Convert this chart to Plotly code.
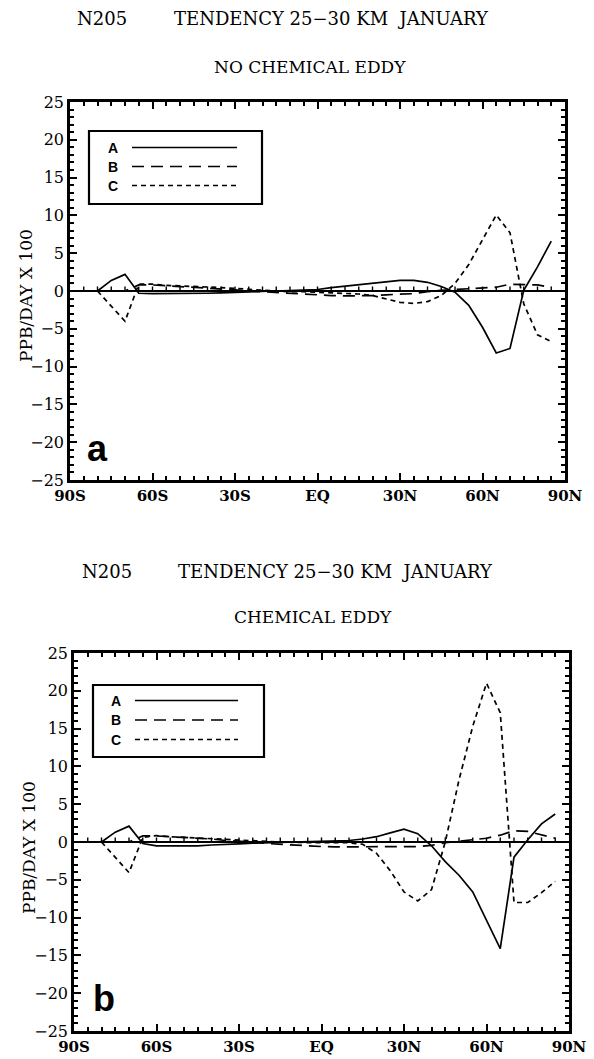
import plotly.graph_objects as go
import numpy as np

# ---------------- data ----------------
lat = [-80, -75, -70, -65, -60, -55, -50, -45, -40, -35, -30, -25, -20, -15, -10, -5,
       0, 5, 10, 15, 20, 25, 30, 35, 40, 45, 50, 55, 60, 65, 70, 75, 80, 85]

# panel a : NO CHEMICAL EDDY
a_A = [0.0, 1.4, 2.2, -0.3, -0.35, -0.35, -0.35, -0.35, -0.3, -0.25, -0.2, -0.15, -0.1, 0.0, 0.05, 0.1,
       0.2, 0.45, 0.65, 0.85, 1.05, 1.25, 1.4, 1.4, 1.15, 0.6, -0.15, -1.9, -4.8, -8.2, -7.6, 0.1, 3.2, 6.6]
a_B = [0.0, 0.0, 0.0, 0.8, 0.8, 0.7, 0.6, 0.5, 0.4, 0.3, 0.15, 0.0, -0.1, -0.2, -0.3, -0.45,
       -0.5, -0.6, -0.65, -0.65, -0.6, -0.5, -0.45, -0.35, -0.1, 0.1, 0.2, 0.3, 0.4, 0.5, 0.9, 0.9, 0.8, 0.5]
a_C = [0.0, -2.0, -4.0, 0.9, 0.9, 0.75, 0.7, 0.65, 0.55, 0.45, 0.35, 0.2, 0.1, 0.0, -0.1, -0.1,
       -0.2, -0.2, -0.3, -0.4, -0.6, -1.1, -1.5, -1.65, -1.4, -0.6, 1.0, 3.5, 6.7, 10.05, 7.7, -1.7, -5.8, -6.7]

# panel b : CHEMICAL EDDY
b_A = [0.0, 1.3, 2.1, -0.2, -0.5, -0.5, -0.5, -0.5, -0.4, -0.35, -0.25, -0.15, -0.1, 0.0, 0.0, 0.05,
       0.1, 0.1, 0.2, 0.4, 0.7, 1.2, 1.7, 1.1, -0.5, -2.6, -4.4, -6.6, -10.3, -14.1, -2.0, 0.3, 2.4, 3.7]
b_B = [0.0, 0.0, 0.0, 0.8, 0.8, 0.7, 0.6, 0.5, 0.4, 0.2, 0.1, 0.0, -0.2, -0.3, -0.45, -0.55,
       -0.6, -0.65, -0.65, -0.65, -0.65, -0.65, -0.65, -0.6, -0.45, -0.1, 0.1, 0.3, 0.5, 0.9, 1.5, 1.4, 0.9, 0.5]
b_C = [0.0, -2.0, -4.05, 0.6, 0.85, 0.7, 0.6, 0.5, 0.45, 0.35, 0.2, 0.1, 0.05, 0.0, -0.05, -0.1,
       -0.1, -0.1, -0.1, -0.3, -1.5, -3.8, -6.6, -7.8, -6.3, 0.0, 8.2, 15.3, 21.0, 17.1, -8.0, -8.0, -6.7, -5.2]

x_tick_vals = [-90, -60, -30, 0, 30, 60, 90]
x_tick_text = ["90S", "60S", "30S", "EQ", "30N", "60N", "90N"]
series_names = ["A", "B", "C"]

title_code = "N205"
title_main = "TENDENCY 25\u221230 KM  JANUARY"
subtitles = ["NO CHEMICAL EDDY", "CHEMICAL EDDY"]
panel_letters = ["a", "b"]
y_title = "PPB/DAY X 100"

# tick label aliases (numeric latitude -> label)
x_alias = {}
for v, t in zip(x_tick_vals, x_tick_text):
    x_alias[str(v)] = t
    x_alias[str(v).replace("-", "\u2212")] = t

# ---------------- layout geometry (pixels) ----------------
W, H = 594, 1059
def px(x):
    return x / W
def py(y):
    return 1 - y / H

panels = [
    dict(data=[a_A, a_B, a_C], xd=(70, 565), yd=(102, 480), t1=19, t2=67, tc=102, tx1=331, tx2=310,
         leg=(89, 262, 131, 204), leg_rows=(147.5, 166.5, 185.5), leg_lx=113, leg_x=(132, 237),
         let=(97, 448), ytl=(26, 296)),
    dict(data=[b_A, b_B, b_C], xd=(74, 569), yd=(653, 1031), t1=571, t2=617, tc=107, tx1=335, tx2=313,
         leg=(93, 264, 685, 757), leg_rows=(700.5, 720, 739.5), leg_lx=116, leg_x=(135, 238),
         let=(104, 998), ytl=(29, 848)),
]

dashes = ["solid", "12px,7px", "5px,4px"]
serif = "DejaVu Serif"

fig = go.Figure()
shapes = []
annotations = []
layout_axes = {}

for i, p in enumerate(panels):
    xa = "x" if i == 0 else "x2"
    ya = "y" if i == 0 else "y2"
    for name, vals, dsh in zip(series_names, p["data"], dashes):
        fig.add_trace(go.Scatter(x=lat, y=vals, mode="lines", name=name, showlegend=False,
                                 line=dict(color="black", width=1.7, dash=dsh),
                                 xaxis=xa, yaxis=ya))
    xkey = "xaxis" if i == 0 else "xaxis2"
    ykey = "yaxis" if i == 0 else "yaxis2"
    layout_axes[xkey] = dict(
        domain=[px(p["xd"][0]), px(p["xd"][1])], range=[-90, 90], anchor=ya,
        tickmode="linear", tick0=-90, dtick=30, labelalias=x_alias,
        ticks="inside", ticklen=7, tickwidth=1.8, tickcolor="black",
        showline=True, linewidth=2.6, linecolor="black", mirror="ticks",
        showgrid=False, zeroline=False,
        minor=dict(ticks="inside", tick0=-90, dtick=5, ticklen=4.5,
                   tickwidth=1.5, tickcolor="black", showgrid=False),
        tickfont=dict(family=serif, size=15, color="black", weight="bold"),
    )
    layout_axes[ykey] = dict(
        domain=[py(p["yd"][1]), py(p["yd"][0])], range=[-25, 25], anchor=xa,
        tickmode="linear", tick0=-25, dtick=5,
        ticks="inside", ticklen=7, tickwidth=1.8, tickcolor="black",
        showline=True, linewidth=2.6, linecolor="black", mirror="ticks",
        showgrid=False, zeroline=True, zerolinewidth=2.3, zerolinecolor="black",
        minor=dict(ticks="inside", tick0=-25, dtick=1, ticklen=4.5,
                   tickwidth=1.5, tickcolor="black", showgrid=False),
        tickfont=dict(family=serif, size=16, color="black"),
    )
    # small upward ticks along the zero line
    for xv in np.arange(-85, 90, 5):
        shapes.append(dict(type="line", xref=xa, yref=ya, x0=float(xv), x1=float(xv), y0=0, y1=0.6,
                           line=dict(color="black", width=1.4)))
    # legend box
    lx0, lx1, ly0, ly1 = p["leg"]
    shapes.append(dict(type="rect", xref="paper", yref="paper", x0=px(lx0), x1=px(lx1),
                       y0=py(ly1), y1=py(ly0), line=dict(color="black", width=2.2)))
    for name, ry, dsh in zip(series_names, p["leg_rows"], dashes):
        shapes.append(dict(type="line", xref="paper", yref="paper",
                           x0=px(p["leg_x"][0]), x1=px(p["leg_x"][1]), y0=py(ry), y1=py(ry),
                           line=dict(color="black", width=1.7, dash=dsh)))
        annotations.append(dict(text=name, xref="paper", yref="paper", x=px(p["leg_lx"]), y=py(ry),
                                xanchor="center", yanchor="middle", showarrow=False,
                                font=dict(family="Liberation Sans", size=14, color="black", weight="bold")))
    # titles
    annotations.append(dict(text=title_code, xref="paper", yref="paper", x=px(p["tc"]), y=py(p["t1"]),
                            xanchor="center", yanchor="middle", showarrow=False,
                            font=dict(family=serif, size=18, color="black")))
    annotations.append(dict(text=title_main, xref="paper", yref="paper", x=px(p["tx1"]), y=py(p["t1"]),
                            xanchor="center", yanchor="middle", showarrow=False,
                            font=dict(family=serif, size=18, color="black")))
    annotations.append(dict(text=subtitles[i], xref="paper", yref="paper", x=px(p["tx2"]), y=py(p["t2"]),
                            xanchor="center", yanchor="middle", showarrow=False,
                            font=dict(family=serif, size=17, color="black")))
    # panel letter
    annotations.append(dict(text=panel_letters[i], xref="paper", yref="paper", x=px(p["let"][0]),
                            y=py(p["let"][1]), xanchor="center", yanchor="middle", showarrow=False,
                            font=dict(family="Liberation Sans", size=36, color="black", weight="bold")))
    # y-axis title
    annotations.append(dict(text=y_title, xref="paper", yref="paper", x=px(p["ytl"][0]),
                            y=py(p["ytl"][1]), xanchor="center", yanchor="middle", showarrow=False,
                            textangle=-90, font=dict(family=serif, size=17, color="black")))

fig.update_layout(
    template="none",
    width=W, height=H, margin=dict(l=0, r=0, t=0, b=0, autoexpand=False),
    paper_bgcolor="white", plot_bgcolor="white",
    shapes=shapes, annotations=annotations, showlegend=False,
    **layout_axes,
)

fig.write_html("out.html")
